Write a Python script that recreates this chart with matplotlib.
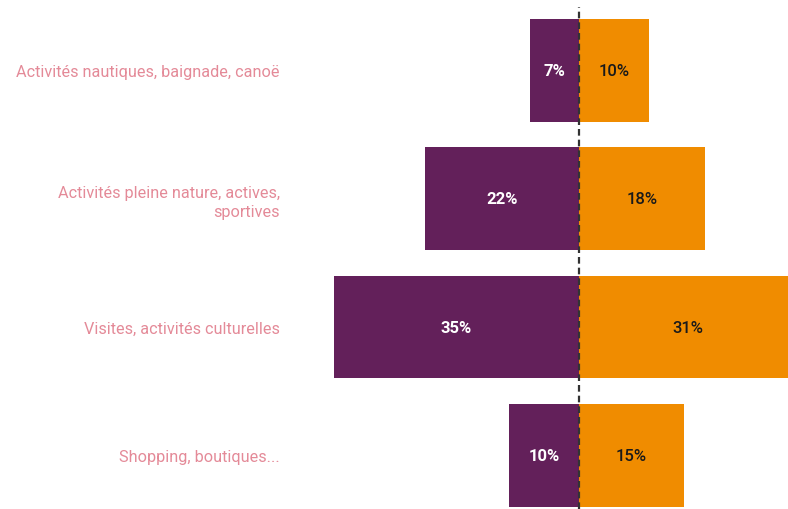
import matplotlib.pyplot as plt
import numpy as np

# DATA
categories = [
    'Activités nautiques, baignade, canoë',
    'Activités pleine nature, actives,\nsportives',
    'Visites, activités culturelles',
    'Shopping, boutiques...',
]
left_vals = [7, 22, 35, 10]
right_vals = [10, 18, 31, 15]

PURPLE = '#63205A'
ORANGE = '#F08C00'
LABEL_COLOR = '#E48A98'

plt.rcParams['font.family'] = ['Roboto', 'DejaVu Sans']

fig = plt.figure(figsize=(7.88, 5.10), dpi=100)
# axes spans x 300..788 px, full height
ax = fig.add_axes([300 / 788, 0, 488 / 788, 1])

y = np.arange(len(categories))
ax.barh(y, [-v for v in left_vals], height=0.8, color=PURPLE)
ax.barh(y, right_vals, height=0.8, color=ORANGE)

for yi, lv, rv in zip(y, left_vals, right_vals):
    ax.text(-lv / 2, yi, f'{lv}%', ha='center', va='center',
            color='white', fontsize=12, fontweight='bold')
    ax.text(rv / 2, yi, f'{rv}%', ha='center', va='center',
            color='#1a1a1a', fontsize=12, fontweight='medium')

# dashed centre line
ax.axvline(0, ymin=0, ymax=1 - 8 / 510, color='#333333', lw=1.6,
           ls=(0, (3, 1.8)))

ax.set_xlim(-(579 - 300) / 7, (788 - 579) / 7)
ax.set_ylim((510 - 71.5) / 128.3, -71.5 / 128.3)

ax.set_yticks(y)
ax.set_yticklabels(categories, fontsize=11.7, color=LABEL_COLOR,
                   linespacing=1.35)
ax.tick_params(axis='y', length=0, pad=14.5)
ax.set_xticks([])
for s in ax.spines.values():
    s.set_visible(False)

fig.savefig('out.png', dpi=100)
